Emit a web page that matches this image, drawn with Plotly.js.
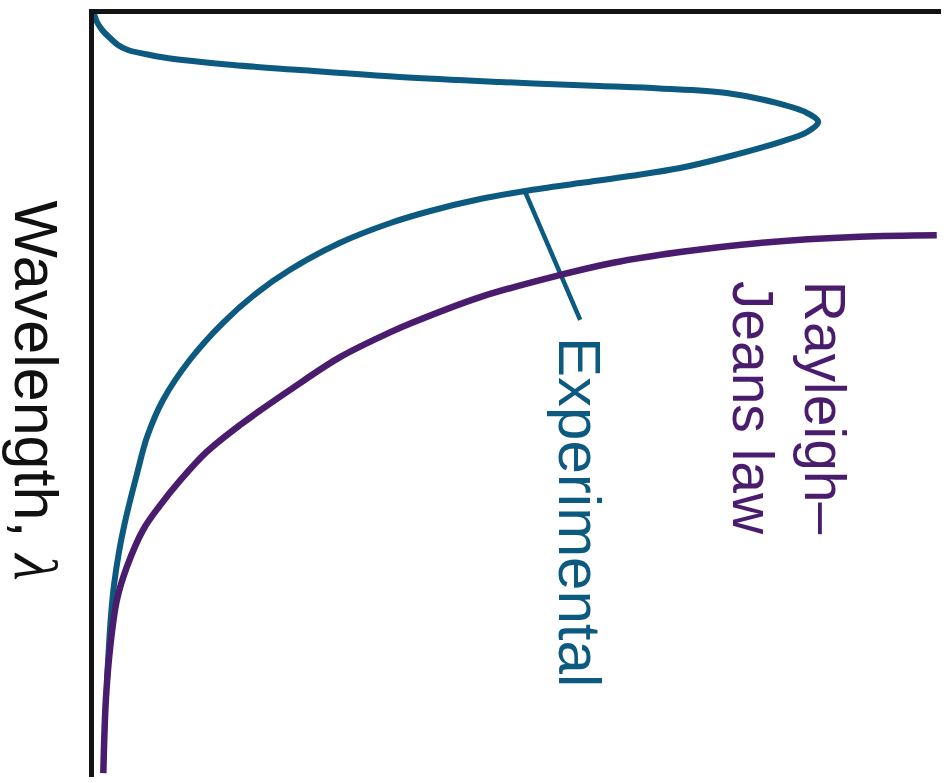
<!DOCTYPE html>
<html>
<head>
<meta charset="utf-8">
<script src="https://cdn.plot.ly/plotly-3.0.1.min.js"></script>
<style>
  html, body { margin: 0; padding: 0; background: #ffffff; }
  #chart { width: 948px; height: 783px; }
</style>
</head>
<body>
<div id="chart"></div>
<script>
// Blackbody spectrum drawn sideways: wavelength runs down the left axis,
// spectral intensity runs to the right along the top axis.

// Experimental (Planck-like) curve: intensity vs wavelength
const expIntensity = [0.0, 0.35, 1.06, 1.89, 2.83, 4.01, 6.02, 8.62, 16.4, 24.3, 36.1, 47.9, 59.7, 66.8, 74.7, 80.6, 84.2, 85.5,
  84.2, 80.6, 74.7, 69.2, 63.3, 57.4, 50.9, 45.6, 39.7, 35.0, 29.0, 23.1, 19.2, 15.2, 11.3, 8.15, 6.26, 5.19, 4.37, 3.66, 2.95, 2.36, 2.01, 1.77, 1.53];
const expWavelength = [0.0, 1.05, 2.23, 3.15, 4.06, 4.72, 5.24, 5.77, 6.68, 7.34, 8.26, 8.91, 9.44, 9.76, 10.35, 11.66, 12.98, 14.15,
  15.47, 16.91, 18.74, 20.18, 21.23, 22.15, 23.20, 24.25, 25.82, 27.39, 30.01, 33.55, 36.57, 40.50, 45.35, 50.59, 55.44, 59.76, 63.30, 66.58, 70.51, 74.84, 78.77, 82.70, 87.29];

// Rayleigh–Jeans law curve
const rjIntensity = [99.5, 90.4, 78.6, 69.2, 61.3, 54.7, 45.6, 37.7, 35.0, 29.0, 23.1, 17.2, 13.3, 10.2, 7.8, 5.8, 3.9, 2.7, 1.9, 1.4, 1.1];
const rjWavelength = [29.0, 29.2, 30.0, 31.2, 32.6, 34.3, 37.1, 40.4, 41.7, 45.0, 49.3, 53.9, 57.4, 61.1, 64.4, 67.6, 72.4, 76.8, 83.1, 89.9, 99.5];

// Leader line tying the "Experimental" label to its curve
const leaderIntensity = [50.9, 57.4];
const leaderWavelength = [23.3, 40.1];

const BLUE = '#0d5a80';
const PURPLE = '#4a1c6e';
const FONT = 'Liberation Sans, Arial, Helvetica, sans-serif';

const traces = [
  {
    x: expIntensity, y: expWavelength, type: 'scatter', mode: 'lines',
    line: { color: BLUE, width: 6, shape: 'spline', smoothing: 1 },
    name: 'Experimental'
  },
  {
    x: leaderIntensity, y: leaderWavelength, type: 'scatter', mode: 'lines',
    line: { color: BLUE, width: 4.5 }, name: 'leader'
  },
  {
    x: rjIntensity, y: rjWavelength, type: 'scatter', mode: 'lines',
    line: { color: PURPLE, width: 6.5, shape: 'spline', smoothing: 1 },
    name: 'Rayleigh–Jeans law'
  }
];

const layout = {
  width: 948, height: 783,
  margin: { l: 94, r: 7, t: 14, b: 6 },
  paper_bgcolor: '#ffffff', plot_bgcolor: '#ffffff',
  showlegend: false,
  xaxis: {
    range: [0, 100], side: 'top', showline: true, linewidth: 5, linecolor: '#141414',
    showgrid: false, zeroline: false, showticklabels: false, ticks: ''
  },
  yaxis: {
    range: [100, 0], showline: true, linewidth: 5, linecolor: '#141414',
    showgrid: false, zeroline: false, showticklabels: false, ticks: ''
  },
  annotations: [
    {
      text: 'Wavelength, <span style="font-family:Liberation Serif"><i>λ</i></span>',
      xref: 'paper', yref: 'paper', x: -0.068, y: 0.506, showarrow: false, textangle: 90,
      xanchor: 'center', yanchor: 'middle',
      font: { family: FONT, size: 61, color: '#111111' }
    },
    {
      text: 'Experimental',
      xref: 'x', yref: 'y', x: 57.4, y: 65.3, showarrow: false, textangle: 90,
      xanchor: 'center', yanchor: 'middle',
      font: { family: FONT, size: 60, color: BLUE }
    },
    {
      text: 'Rayleigh–',
      xref: 'x', yref: 'y', x: 86.3, y: 51.6, showarrow: false, textangle: 90,
      xanchor: 'center', yanchor: 'middle',
      font: { family: FONT, size: 57, color: PURPLE }
    },
    {
      text: 'Jeans law',
      xref: 'x', yref: 'y', x: 77.8, y: 51.6, showarrow: false, textangle: 90,
      xanchor: 'center', yanchor: 'middle',
      font: { family: FONT, size: 57, color: PURPLE }
    }
  ]
};

Plotly.newPlot('chart', traces, layout, { staticPlot: true, displayModeBar: false });
</script>
</body>
</html>
